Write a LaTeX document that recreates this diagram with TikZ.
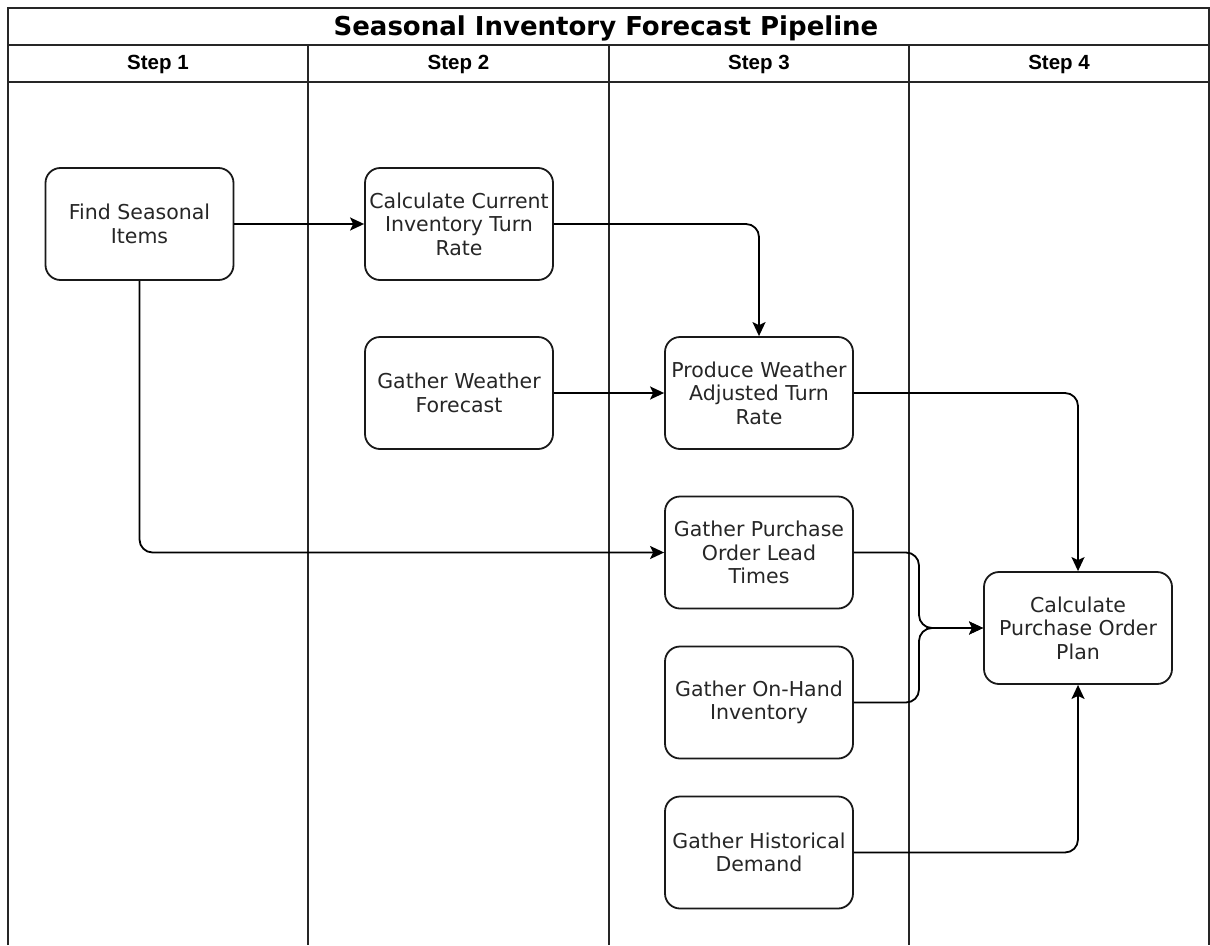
\documentclass[tikz,border=0pt]{standalone}
\usepackage{fontspec}
\setmainfont{DejaVu Sans}
\newfontfamily\headfont{Liberation Sans}
\usetikzlibrary{arrows.meta}

\begin{document}
\begin{tikzpicture}[x=1pt,y=-1pt,
  lane/.style={line width=1.8pt, draw=black!85},
  task/.style={draw=black!90, line width=1.8pt, rounded corners=15pt,
    minimum width=188pt, minimum height=112pt, inner sep=0pt, align=center,
    text=black!85, font=\fontsize{20.5}{23.5}\selectfont},
  flow/.style={line width=1.8pt, draw=black, rounded corners=13pt,
    -{Stealth[length=14pt,width=13pt,inset=3pt]}},
  titletext/.style={font=\bfseries\fontsize{26}{29}\selectfont},
  steptext/.style={font=\headfont\bfseries\fontsize{20.5}{24}\selectfont}
]
\useasboundingbox (0,0) rectangle (1210,945);
\fill[white] (0,0) rectangle (1210,945);

% pool frame, title row and lane header row
\draw[lane] (8,945) -- (8,8) -- (1209,8) -- (1209,945);
\draw[lane] (8,45) -- (1209,45);
\draw[lane, line width=2.2pt] (8,82) -- (1209,82);
\foreach \x in {308,609,909} \draw[lane] (\x,45) -- (\x,945);

\node[titletext] (title) at (606,28.5) {Seasonal Inventory Forecast Pipeline};
\node[steptext] (s1) at (158,64) {Step 1};
\node[steptext] (s2) at (458.5,64) {Step 2};
\node[steptext] (s3) at (759,64) {Step 3};
\node[steptext] (s4) at (1059,64) {Step 4};

% tasks
\node[task] (find) at (139.5,224) {Find Seasonal\\Items};
\node[task] (calc) at (459,224) {Calculate Current\\Inventory Turn\\Rate};
\node[task] (weather) at (459,393) {Gather Weather\\Forecast};
\node[task] (produce) at (759,393) {Produce Weather\\Adjusted Turn\\Rate};
\node[task] (lead) at (759,552.5) {Gather Purchase\\Order Lead\\Times};
\node[task] (onhand) at (759,702.5) {Gather On-Hand\\Inventory};
\node[task] (hist) at (759,852.5) {Gather Historical\\Demand};
\node[task] (plan) at (1078,628) {Calculate\\Purchase Order\\Plan};

\coordinate (merge) at (919,628);

% connectors
\draw[flow] (find.east) -- (calc.west);
\draw[flow] (calc.east) -| (produce.north);
\draw[flow] (weather.east) -- (produce.west);
\draw[flow] (find.south) |- (lead.west);
\draw[flow] (produce.east) -| (plan.north);
\draw[flow] (lead.east) -| (merge) -- (plan.west);
\draw[flow] (onhand.east) -| (merge) -- (plan.west);
\draw[flow] (hist.east) -| (plan.south);
\end{tikzpicture}
\end{document}
